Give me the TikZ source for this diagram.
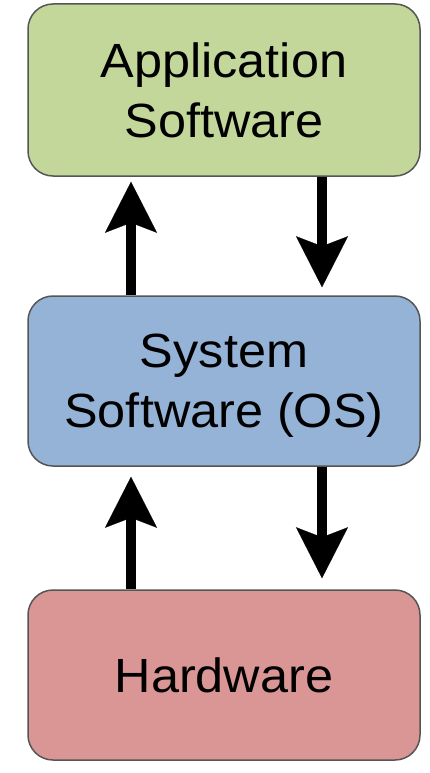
\documentclass[tikz,border=0pt]{standalone}
\usepackage{fontspec}
\setmainfont{Liberation Sans}[FakeStretch=1.05]
\usetikzlibrary{arrows.meta}
\definecolor{appgreen}{RGB}{196,215,155}
\definecolor{sysblue}{RGB}{149,179,215}
\definecolor{hwred}{RGB}{218,150,148}
\definecolor{boxline}{RGB}{85,85,85}
\begin{document}
\begin{tikzpicture}[x=1pt,y=-1pt,
  box/.style={draw=boxline, line width=1.5pt, rounded corners=25pt,
    minimum width=392pt, inner sep=0pt, align=center, text depth=0pt,
    font=\fontsize{48}{60}\selectfont},
  flow/.style={line width=10pt,
    -{Stealth[length=51pt,width=52pt,inset=10pt,line width=0.1pt]}}]
\useasboundingbox (0,0) rectangle (429,773);
\node[box, fill=appgreen, minimum height=172pt] (app) at (224,90) {Application\\Software};
\node[box, fill=sysblue, minimum height=170pt] (sys) at (224,381) {System\\Software (OS)};
\node[box, fill=hwred, minimum height=170pt] (hw) at (224,675) {Hardware};
\draw[flow, shorten >=5pt] ([xshift=-93pt]sys.north) -- ([xshift=-93pt]app.south);
\draw[flow, shorten >=8pt] ([xshift=98pt]app.south) -- ([xshift=98pt]sys.north);
\draw[flow, shorten >=10pt] ([xshift=-93pt]hw.north) -- ([xshift=-93pt]sys.south);
\draw[flow, shorten >=11pt] ([xshift=98pt]sys.south) -- ([xshift=98pt]hw.north);
\end{tikzpicture}
\end{document}
